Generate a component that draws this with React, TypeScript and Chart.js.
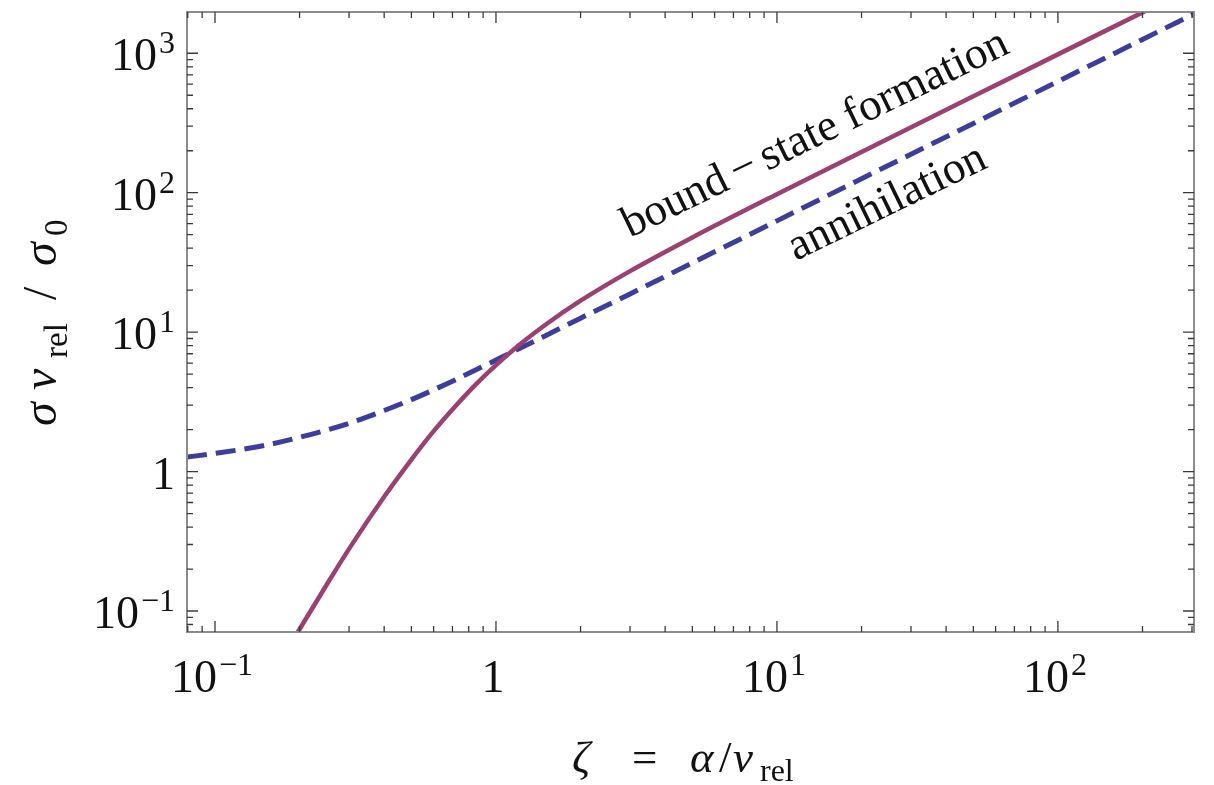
import React, { useEffect, useRef } from "react";
import { Chart, registerables } from "chart.js";

Chart.register(...registerables);

// ---- data ----
const bsfZeta = [0.18, 0.2, 0.25, 0.3, 0.4, 0.5, 0.6, 0.7, 0.85, 1.0, 1.2, 1.5, 2, 3, 5, 10, 20, 50, 100, 200, 220];
const bsfValues = [0.052, 0.074, 0.155, 0.279, 0.66, 1.22, 1.95, 2.79, 4.24, 5.8, 7.99, 11.3, 16.8, 27.4, 47.8, 97.6, 196, 491, 982, 1964, 2160];

const annZeta = [0.0795, 0.1, 0.15, 0.2, 0.3, 0.4, 0.5, 0.7, 1, 1.5, 2, 3, 5, 10, 20, 50, 100, 200, 305];
const annValues = [1.27, 1.35, 1.54, 1.76, 2.22, 2.74, 3.28, 4.45, 6.3, 9.43, 12.6, 18.8, 31.4, 62.8, 126, 314, 628, 1257, 1916];

const seriesNames = ["bound\u2006\u2212\u2006state formation", "annihilation"];

const xRange = [0.0795, 305];
const yRange = [0.0707, 1977];

const xMajorTicks = [0.1, 1, 10, 100];
const xTickLabels: [string, string][] = [["10", "\u22121"], ["1", ""], ["10", "1"], ["10", "2"]];
const yMajorTicks = [0.1, 1, 10, 100, 1000];
const yTickLabels: [string, string][] = [["10", "\u22121"], ["1", ""], ["10", "1"], ["10", "2"], ["10", "3"]];

const BSF_COLOR = "#9b4072";
const ANN_COLOR = "#3d3d9e";
const SERIF = '"Liberation Serif", "Times New Roman", serif';

const decorPlugin = {
  id: "decor",
  afterDatasetsDraw(chart: any) {
    const { ctx, chartArea: a } = chart;
    const xs = chart.scales.x;
    const ys = chart.scales.y;
    ctx.save();

    // frame
    ctx.strokeStyle = "#8c8c8c";
    ctx.lineWidth = 2;
    ctx.strokeRect(a.left, a.top, a.right - a.left, a.bottom - a.top);

    // tick marks on all four sides
    ctx.strokeStyle = "#3a3a3a";
    ctx.lineWidth = 1.3;
    const drawTicks = (scale: any, horizontal: boolean) => {
      const lo = Math.floor(Math.log10(scale.min));
      const hi = Math.ceil(Math.log10(scale.max));
      for (let e = lo; e <= hi; e++) {
        for (let k = 1; k <= 9; k++) {
          const v = k * Math.pow(10, e);
          if (v < scale.min || v > scale.max) continue;
          const len = k === 1 ? 11 : 6;
          const p = scale.getPixelForValue(v);
          ctx.beginPath();
          if (horizontal) {
            ctx.moveTo(p, a.bottom); ctx.lineTo(p, a.bottom - len);
            ctx.moveTo(p, a.top); ctx.lineTo(p, a.top + len);
          } else {
            ctx.moveTo(a.left, p); ctx.lineTo(a.left + len, p);
            ctx.moveTo(a.right, p); ctx.lineTo(a.right - len, p);
          }
          ctx.stroke();
        }
      }
    };
    drawTicks(xs, true);
    drawTicks(ys, false);

    // tick labels
    ctx.fillStyle = "#111";
    ctx.textBaseline = "alphabetic";
    ctx.textAlign = "left";
    const baseFont = `46px ${SERIF}`;
    const supFont = `32px ${SERIF}`;
    const measure = (b: string, s: string) => {
      ctx.font = baseFont;
      const wb = ctx.measureText(b).width;
      ctx.font = supFont;
      const ws = s ? ctx.measureText(s).width + 2 : 0;
      return [wb, ws];
    };
    const drawLabel = (b: string, s: string, x0: number, base: number) => {
      const [wb] = measure(b, s);
      ctx.font = baseFont;
      ctx.fillText(b, x0, base);
      if (s) {
        ctx.font = supFont;
        ctx.fillText(s, x0 + wb + 2, base - 17);
      }
    };
    xMajorTicks.forEach((v, i) => {
      const [b, s] = xTickLabels[i];
      const [wb, ws] = measure(b, s);
      const px = xs.getPixelForValue(v);
      drawLabel(b, s, px - (wb + ws) / 2 - 3, 692);
    });
    yMajorTicks.forEach((v, i) => {
      const [b, s] = yTickLabels[i];
      const [wb, ws] = measure(b, s);
      const py = ys.getPixelForValue(v);
      drawLabel(b, s, 175 - (wb + ws), py + 17);
    });

    // x-axis title: ζ = α/v_rel
    const it = `italic 45px ${SERIF}`;
    const rm = `45px ${SERIF}`;
    const sub = `32px ${SERIF}`;
    const runsX: [string, string, number, number][] = [
      ["\u03B6", it, 572, 772],
      ["=", rm, 632, 772],
      ["\u03B1", it, 690, 772],
      ["/", rm, 719, 772],
      ["v", it, 733, 772],
      ["rel", sub, 760, 781],
    ];
    runsX.forEach(([t, f, x, yb]) => { ctx.font = f; ctx.fillText(t, x, yb); });

    // y-axis title: σ v_rel / σ_0 (rotated)
    ctx.save();
    ctx.translate(56, 426);
    ctx.rotate(-Math.PI / 2);
    const itY = `italic 48px ${SERIF}`;
    const rmY = `48px ${SERIF}`;
    const subY = `33px ${SERIF}`;
    const runsY: [string, string, number, number][] = [
      ["\u03C3", itY, 0, 0],
      ["v", itY, 36, 0],
      ["rel", subY, 68, 11],
      ["/", rmY, 126, 0],
      ["\u03C3", itY, 160, 0],
      ["0", subY, 190, 11],
    ];
    runsY.forEach(([t, f, x, yb]) => { ctx.font = f; ctx.fillText(t, x, yb); });
    ctx.restore();

    // curve annotations
    const ang = -26 * Math.PI / 180;
    ctx.font = `45px ${SERIF}`;
    ctx.save();
    ctx.translate(630, 238);
    ctx.rotate(ang);
    ctx.fillText(seriesNames[0], 0, 0);
    ctx.restore();
    ctx.save();
    ctx.translate(796, 261);
    ctx.rotate(ang);
    ctx.fillText(seriesNames[1], 0, 0);
    ctx.restore();

    ctx.restore();
  },
};

export default function App() {
  const ref = useRef<HTMLCanvasElement | null>(null);
  useEffect(() => {
    document.body.style.margin = "0";
    const canvas = ref.current;
    if (!canvas) return;
    const chart = new Chart(canvas, {
      type: "line",
      data: {
        datasets: [
          {
            label: seriesNames[0],
            data: bsfZeta.map((z, i) => ({ x: z, y: bsfValues[i] })),
            borderColor: BSF_COLOR,
            borderWidth: 4.5,
            pointRadius: 0,
            cubicInterpolationMode: "monotone",
            clip: 0,
          },
          {
            label: seriesNames[1],
            data: annZeta.map((z, i) => ({ x: z, y: annValues[i] })),
            borderColor: ANN_COLOR,
            borderWidth: 5,
            borderDash: [20, 9],
            pointRadius: 0,
            cubicInterpolationMode: "monotone",
            clip: 0,
          },
        ],
      },
      options: {
        animation: false,
        responsive: false,
        layout: { padding: { left: 187, top: 12, right: 20, bottom: 153 } },
        scales: {
          x: { type: "logarithmic", min: xRange[0], max: xRange[1], display: false },
          y: { type: "logarithmic", min: yRange[0], max: yRange[1], display: false },
        },
        plugins: { legend: { display: false }, tooltip: { enabled: false } },
      },
      plugins: [decorPlugin],
    } as any);
    return () => chart.destroy();
  }, []);
  return (
    <div style={{ position: "absolute", left: 0, top: 0, width: 1214, height: 785, background: "#fff" }}>
      <canvas ref={ref} width={1214} height={785} />
    </div>
  );
}
